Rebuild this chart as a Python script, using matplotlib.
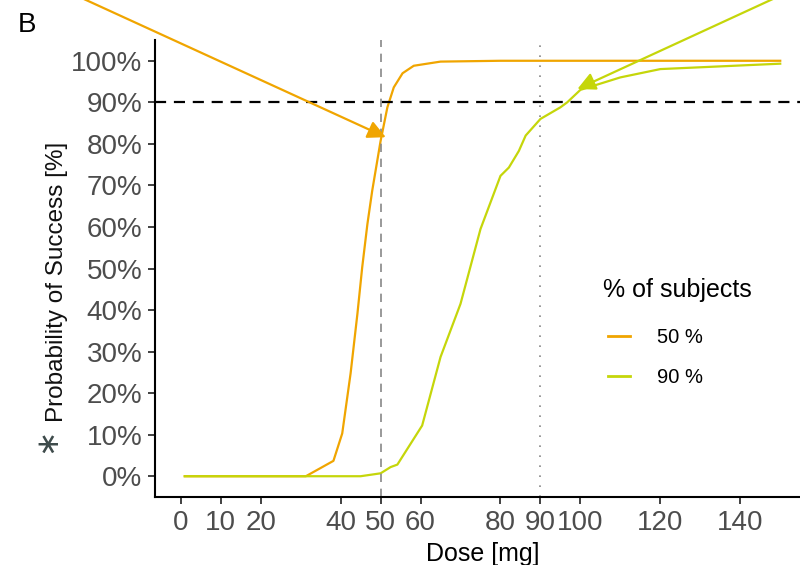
import matplotlib
matplotlib.use('Agg')
import matplotlib.pyplot as plt

plt.rcParams['font.family'] = ['Liberation Sans', 'DejaVu Sans']

# probability of success curves
dose50 = [1, 31.3, 38.2, 40.4, 42.5, 44.2, 45.4, 46.7, 47.9, 50, 51.7, 53.3, 55.5, 58.3, 65, 80, 150]
prob50 = [0, 0, 3.7, 10.3, 24.8, 39.1, 50.3, 60.7, 68.7, 80.7, 88.8, 93.6, 97, 98.8, 99.8, 100, 100]

dose90 = [1, 45, 50, 52.5, 54.2, 60.4, 65, 70, 75, 80, 82.1, 84.6, 86.3, 90, 95, 96.7, 100, 105, 110, 120, 150]
prob90 = [0, 0, 0.7, 2.2, 2.8, 12.2, 28.7, 41.5, 59.5, 72.3, 74.3, 78.3, 82, 86, 88.8, 90, 93, 94.5, 96, 98, 99.3]

xticks = [0, 10, 20, 40, 50, 60, 80, 90, 100, 120, 140]
yticks = [0, 10, 20, 30, 40, 50, 60, 70, 80, 90, 100]
target = 90
dose_a = 50
dose_b = 90

orange = '#F0A500'
green = '#C5D60A'

fig = plt.figure(figsize=(8, 5.65), dpi=100)
ax = fig.add_axes([155/800, 68/565, 655/800, 457/565])

l50, = ax.plot(dose50, prob50, color=orange, lw=1.6, label='50 %')
l90, = ax.plot(dose90, prob90, color=green, lw=1.6, label='90 %')

ax.axhline(target, color='black', lw=1.6, ls=(0, (5, 3.5)))
ax.axvline(dose_a, color='#888888', lw=1.2, ls=(0, (5, 4)))
ax.axvline(dose_b, color='#888888', lw=1.2, ls=(0, (1, 5)))

ax.annotate('', xy=(51.3, 81.6), xytext=(-30, 117.4),
            arrowprops=dict(arrowstyle='-|>', color=orange, lw=1.6,
                            mutation_scale=27, shrinkA=0, shrinkB=0))
ax.annotate('', xy=(99.25, 93.2), xytext=(155, 117.9),
            arrowprops=dict(arrowstyle='-|>', color=green, lw=1.6,
                            mutation_scale=27, shrinkA=0, shrinkB=0))

ax.set_xlim(-6.45, 157.45)
ax.set_ylim(-5, 105)
ax.set_xticks(xticks)
ax.set_yticks(yticks)
ax.set_yticklabels([f'{v}%' for v in yticks])
ax.tick_params(length=5, width=1.3, color='#333333', labelsize=20,
               labelcolor='#4D4D4D', pad=4)
for s in ['top', 'right']:
    ax.spines[s].set_visible(False)
for s in ['left', 'bottom']:
    ax.spines[s].set_linewidth(1.5)

ax.set_xlabel('Dose [mg]', fontsize=18, labelpad=5)

fig.text(57/800, 1 - 282/565, 'Probability of Success [%]', rotation=90,
         ha='center', va='center', fontsize=17.5, color='#111111')
fig.text(47/800, 1 - 440/565, '\u2217', rotation=90, ha='center', va='center',
         fontsize=22, color='#3d4a4a', family='DejaVu Sans')
fig.text(18/800, 1 - 25/565, 'B', ha='left', va='center', fontsize=20)

fig.text(603/800, 1 - 290/565, '% of subjects', ha='left', va='center', fontsize=18)
leg = ax.legend(handles=[l50, l90], loc='upper left',
                bbox_to_anchor=(608/800, 1 - 328/565), bbox_transform=fig.transFigure,
                frameon=False, fontsize=14.5, handlelength=1.1,
                handletextpad=1.32, labelspacing=1.05,
                borderaxespad=0, borderpad=0)
for h in leg.get_lines():
    h.set_linewidth(2)

fig.savefig('out.png', dpi=100)
